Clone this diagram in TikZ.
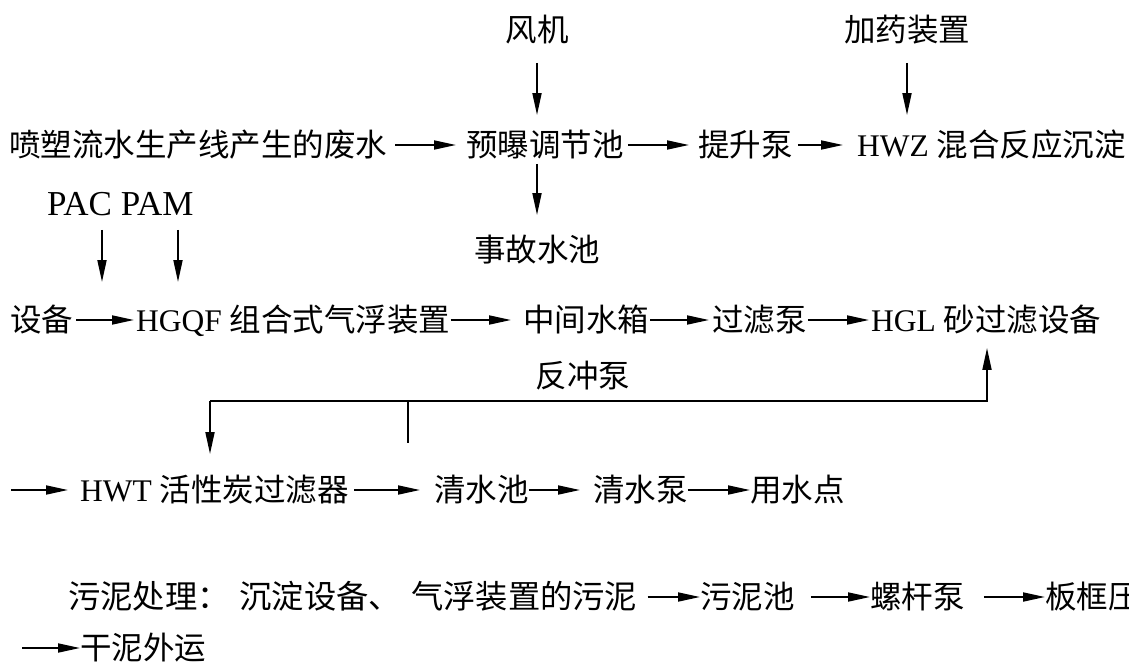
\documentclass[tikz,border=0pt]{standalone}
\usepackage{fontspec}
\setmainfont{Liberation Serif}
\newfontfamily\cjk{Noto Sans CJK SC}
\usetikzlibrary{arrows.meta}
\tikzset{
  lbl/.style={inner sep=0pt, font=\fontsize{31.5}{37}\selectfont, text height=27.7pt, text depth=3.8pt},
  lw/.style={lbl, anchor=west},
  arr/.style={line width=1.8pt, -{Triangle[length=22pt,width=9pt]}},
  ln/.style={line width=1.8pt},
}
\begin{document}
\begin{tikzpicture}[x=1pt,y=-1pt]
\useasboundingbox (0,0) rectangle (1129,666);
% top inputs
\node[lbl] (fj) at (537,30) {\cjk 风机};
\node[lbl] (jy) at (907,30) {\cjk 加药装置};
% row 1
\node[lw] (src) at (9,145) {\cjk 喷塑流水生产线产生的废水};
\node[lw] (ytj) at (466,145) {\cjk 预曝调节池};
\node[lw] (tsb) at (698,145) {\cjk 提升泵};
\node[lw] (hwz) at (857,145) {HWZ {\cjk 混合反应沉淀}};
\draw[arr, shorten <=8pt, shorten >=10pt] (src.east) -- (ytj.west);
\draw[arr, shorten <=4pt, shorten >=9pt] (ytj.east) -- (tsb.west);
\draw[arr, shorten <=5pt, shorten >=14pt] (tsb.east) -- (hwz.west);
\draw[arr, shorten <=17pt, shorten >=14pt] (fj.south) -- (fj.south |- ytj.north);
\draw[arr, shorten <=17pt, shorten >=14pt] (jy.south) -- (jy.south |- hwz.north);
% accident pool
\node[lbl] (sg) at (537,250) {\cjk 事故水池};
\draw[arr, shorten <=3pt, shorten >=19pt] (ytj.south -| sg.north) -- (sg.north);
% chemicals
\node[lw, font=\fontsize{35}{40}\selectfont] (pac) at (47,204) {PAC PAM};
\coordinate (pace) at (102,282);
\coordinate (pame) at (178,282);
\draw[arr, shorten <=10pt] (pac.south -| pace) -- (pace);
\draw[arr, shorten <=10pt] (pac.south -| pame) -- (pame);
% row 2
\node[lw] (sb) at (10,320) {\cjk 设备};
\node[lw] (hgqf) at (136,320) {HGQF {\cjk 组合式气浮装置}};
\node[lw] (zj) at (523,320) {\cjk 中间水箱};
\node[lw] (glb) at (712,320) {\cjk 过滤泵};
\node[lw] (hgl) at (871,320) {HGL {\cjk 砂过滤设备}};
\draw[arr, shorten <=3pt, shorten >=2pt] (sb.east) -- (hgqf.west);
\draw[arr, shorten <=0pt, shorten >=12pt] (hgqf.east) -- (zj.west);
\draw[arr, shorten <=1pt, shorten >=3pt] (zj.east) -- (glb.west);
\draw[arr, shorten <=1pt, shorten >=2pt] (glb.east) -- (hgl.west);
% backwash
\node[lbl] (fcb) at (583,376) {\cjk 反冲泵};
\coordinate (bl) at (210,401);
\coordinate (br) at (987,401);
\coordinate (tk) at (408,443);
% row 3
\coordinate (r3) at (11,490);
\node[lw] (hwt) at (80,490) {HWT {\cjk 活性炭过滤器}};
\node[lw] (qsc) at (434,490) {\cjk 清水池};
\node[lw] (qsb) at (593,490) {\cjk 清水泵};
\node[lw] (ysd) at (750,490) {\cjk 用水点};
\draw[arr, shorten >=12pt] (r3) -- (hwt.west);
\draw[arr, shorten <=5pt, shorten >=14pt] (hwt.east) -- (qsc.west);
\draw[arr, shorten >=13pt] (qsc.east) -- (qsb.west);
\draw[arr] (qsb.east) -- (ysd.west);
\draw[arr, shorten >=12pt] (bl) -- (br) -- (br |- hgl.south);
\draw[arr, shorten >=20pt] (bl) -- (bl |- hwt.north);
\draw[ln] (tk |- bl) -- (tk);
% row 4 sludge
\node[lw, font=\fontsize{32.3}{38}\selectfont] (wn) at (68,597) {\cjk 污泥处理：\hspace{10pt}沉淀设备、\hspace{10pt}气浮装置的污泥};
\node[lw] (wnc) at (700,597) {\cjk 污泥池};
\node[lw] (lgb) at (870,597) {\cjk 螺杆泵};
\node[lw] (bk) at (1045,597) {\cjk 板框压};
\draw[arr, shorten <=10pt] (wn.east) -- (wnc.west);
\draw[arr, shorten <=16pt] (wnc.east) -- (lgb.west);
\draw[arr, shorten <=19pt] (lgb.east) -- (bk.west);
% row 5
\coordinate (r5) at (22,648);
\node[lw] (gn) at (80,648) {\cjk 干泥外运};
\draw[arr] (r5) -- (gn.west);
\end{tikzpicture}
\end{document}
